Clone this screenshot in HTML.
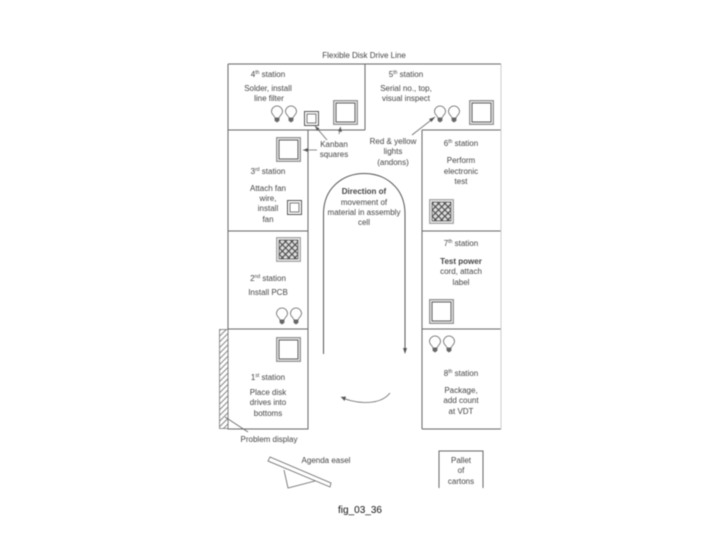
<!DOCTYPE html>
<html><head><meta charset="utf-8"><style>
html,body{margin:0;padding:0;background:#fff}
svg{display:block;filter:blur(.4px)}
text{font-family:"Liberation Sans",sans-serif;font-size:8px;fill:#444;text-anchor:middle}
.s{font-size:5px}
</style></head><body>
<svg width="720" height="540" viewBox="0 0 720 540" xmlns="http://www.w3.org/2000/svg">
<defs>
<pattern id="h" width="4" height="4" patternUnits="userSpaceOnUse" patternTransform="rotate(-45)"><rect width="4" height="4" fill="#fff"/><line x1="0" y1="1" x2="4" y2="1" stroke="#777" stroke-width=".9"/></pattern>
<pattern id="x" width="4.5" height="4.5" patternUnits="userSpaceOnUse" patternTransform="rotate(45)"><rect width="4.5" height="4.5" fill="#ddd"/><path d="M0 1H4.5M1 0V4.5" stroke="#444" stroke-width="1.1"/></pattern>
<g id="b" fill="#fff" stroke="#666" stroke-width=".8"><path d="M-2 12C-2.500 9.500-5.500 8.500-5.500 5.500A5.500 5.500 0 0 1 5.500 5.500C5.500 8.500 2.500 9.500 2 12Z"/><path d="M-2 12H2V14.500L0 16L-2 14.500Z" fill="#666"/></g>
<g id="bb"><use href="#b"/><use href="#b" x="14"/></g>
<g id="sq"><rect x=".75" y=".75" width="23.500" height="23.500" fill="#fff" stroke="#999" stroke-width="1.500"/><rect x="3" y="3" width="19" height="19" fill="#fff" stroke="#555"/></g>
<g id="hs"><rect x=".75" y=".75" width="23.500" height="23.500" fill="#fff" stroke="#aaa" stroke-width="1.500"/><rect x="3" y="3" width="19" height="19" fill="url(#x)" stroke="#555" stroke-width=".8"/></g>
<g id="sm"><rect x=".5" y=".5" width="14" height="14" fill="#fff" stroke="#555"/><rect x="3" y="3" width="9" height="9" fill="#fff" stroke="#777"/></g>
</defs>
<rect width="720" height="540" fill="#fff"/>
<g stroke="#666" stroke-width="1" fill="none">
<path d="M228 64H501M365 64V130M228 130H365M422 130H501M228 64V429H308V130M422 429H501M422 130V429M228 231H308M228 329H308M422 231H501M422 329H501"/>
<path d="M501 64V429" stroke="#ccc"/>
<path d="M323.500 354V214C323.500 160 405 160 405 214V352" stroke="#555"/>
</g>
<path d="M403 348L405 354L407 348" fill="#555"/>
<rect x="219.500" y="329.500" width="8.500" height="99" fill="url(#h)" stroke="#777" stroke-width=".8"/>
<use href="#bb" x="277" y="106"/><use href="#bb" x="440" y="106"/><use href="#bb" x="282" y="308"/><use href="#bb" x="435" y="336"/>
<use href="#sq" x="333" y="100"/><use href="#sq" x="469" y="100"/><use href="#sq" x="276" y="137"/><use href="#sq" x="429" y="299"/><use href="#sq" x="276" y="337"/>
<use href="#hs" x="429" y="199"/><use href="#hs" x="276" y="237"/>
<use href="#sm" x="304" y="111"/><use href="#sm" x="287" y="200"/>
<g stroke="#666" stroke-width=".8" fill="none">
<path d="M315 126L327 140M340.500 127L339 134M303 150H317M412 135L435 117M225 417L248 432"/>
<path d="M341 397C350 402 378 408 390 393"/>
<path d="M270 457L331 483L330 487L268 461ZM284 470L288 488L315 481"/>
</g>
<path d="M315 126L319.500 128.500L317 131ZM340.500 127L342 132L338 131ZM303 150L308 148V152ZM435 117L431.500 122L429 119ZM341 397L346 396.500L344.500 401Z" fill="#555"/>
<text x="364" y="58">Flexible Disk Drive Line</text>
<text x="268" y="77">4<tspan class="s" dy="-3">th</tspan><tspan dy="3"> station</tspan></text>
<text x="268" y="91">Solder, install</text><text x="269" y="101">line filter</text>
<text x="406" y="77">5<tspan class="s" dy="-3">th</tspan><tspan dy="3"> station</tspan></text>
<text x="406" y="91">Serial no., top,</text><text x="406" y="101">visual inspect</text>
<text x="334" y="147">Kanban</text><text x="334" y="157">squares</text>
<text x="393" y="144">Red &amp; yellow</text><text x="393" y="154">lights</text><text x="393" y="165">(andons)</text>
<text x="461" y="146">6<tspan class="s" dy="-3">th</tspan><tspan dy="3"> station</tspan></text>
<text x="461" y="163">Perform</text><text x="461" y="174">electronic</text><text x="461" y="184">test</text>
<text x="268" y="174">3<tspan class="s" dy="-3">rd</tspan><tspan dy="3"> station</tspan></text>
<text x="268" y="191">Attach fan</text><text x="268" y="201">wire,</text><text x="268" y="211">install</text><text x="268" y="222">fan</text>
<text x="364" y="194" style="font-weight:bold">Direction of</text>
<text x="364" y="205">movement of</text><text x="364" y="215">material in assembly</text><text x="364" y="225">cell</text>
<text x="268" y="281">2<tspan class="s" dy="-3">nd</tspan><tspan dy="3"> station</tspan></text>
<text x="268" y="295">Install PCB</text>
<text x="461" y="246">7<tspan class="s" dy="-3">th</tspan><tspan dy="3"> station</tspan></text>
<text x="461" y="264" style="font-weight:bold">Test power</text><text x="461" y="274">cord, attach</text><text x="461" y="285">label</text>
<text x="268" y="380">1<tspan class="s" dy="-3">st</tspan><tspan dy="3"> station</tspan></text>
<text x="268" y="395">Place disk</text><text x="268" y="405">drives into</text><text x="268" y="416">bottoms</text>
<text x="461" y="376">8<tspan class="s" dy="-3">th</tspan><tspan dy="3"> station</tspan></text>
<text x="461" y="393">Package,</text><text x="461" y="403">add count</text><text x="461" y="414">at VDT</text>
<text x="269" y="442">Problem display</text>
<text x="326" y="463">Agenda easel</text>
<path d="M439 488V451H483V488" fill="none" stroke="#666"/>
<text x="461" y="463">Pallet</text><text x="461" y="473">of</text><text x="461" y="484">cartons</text>
<text x="360" y="513" style="font-size:10px;fill:#111">fig_03_36</text>
</svg>
</body></html>
